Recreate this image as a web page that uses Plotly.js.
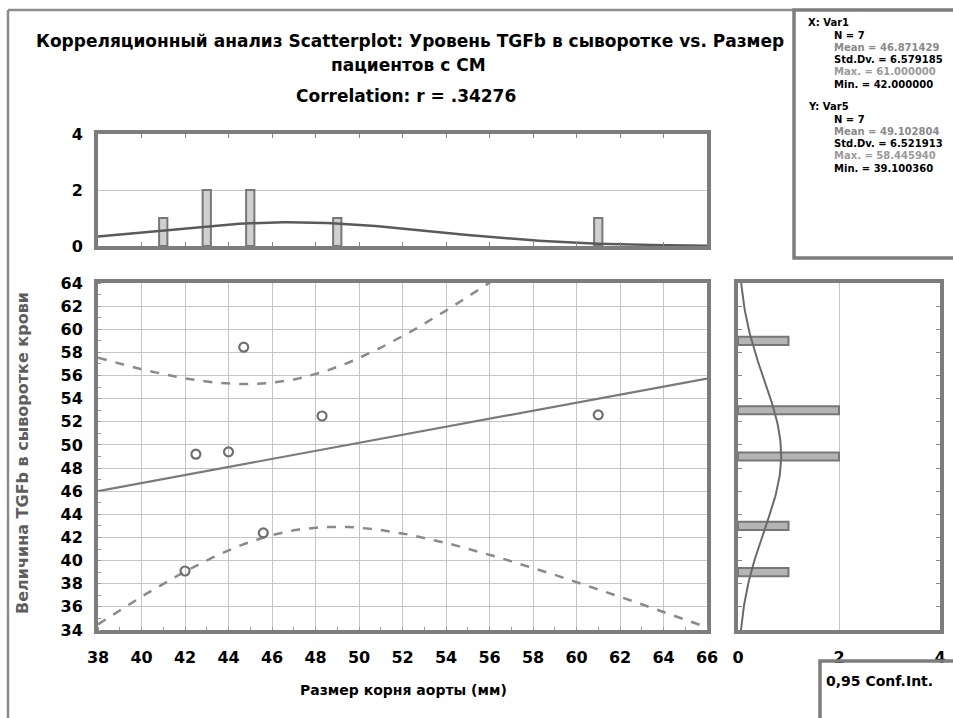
<!DOCTYPE html>
<html>
<head>
<meta charset="utf-8">
<script src="https://cdn.plot.ly/plotly-3.0.1.min.js"></script>
<style>html,body{margin:0;padding:0;background:#fff;}#chart{width:953px;height:718px;}</style>
</head>
<body>
<div id="chart"></div>
<script>
// ---- data ----
const xVals = [42, 42.5, 44, 44.7, 45.6, 48.3, 61];          // Размер корня аорты (мм)
const yVals = [39.1, 49.2, 49.4, 58.45, 42.4, 52.5, 52.6];    // Величина TGFb в сыворотке крови
const xHistCenters = [41, 43, 45, 49, 61];
const xHistCounts  = [1, 2, 2, 1, 1];
const yHistCenters = [39, 43, 49, 53, 59];
const yHistCounts  = [1, 1, 2, 2, 1];
const xTicks = [38,40,42,44,46,48,50,52,54,56,58,60,62,64,66];
const yTicks = [34,36,38,40,42,44,46,48,50,52,54,56,58,60,62,64];
const histBinWidth = 2;
const tCrit = 2.5706; // t(0.975, df=5)

const titleLine1 = "Корреляционный анализ Scatterplot: Уровень TGFb в сыворотке vs. Размер";
const titleLine2 = "пациентов с СМ";
const titleLine3 = "Correlation: r = .34276";
const xTitle = "Размер корня аорты (мм)";
const yTitle = "Величина TGFb в сыворотке крови";
const statsX = ["X: Var1","N = 7","Mean = 46.871429","Std.Dv. = 6.579185","Max. = 61.000000","Min. = 42.000000"];
const statsY = ["Y: Var5","N = 7","Mean = 49.102804","Std.Dv. = 6.521913","Max. = 58.445940","Min. = 39.100360"];
const legendText = "0,95 Conf.Int.";

// ---- statistics derived from the data ----
const n = xVals.length;
const mx = xVals.reduce((a,b)=>a+b,0)/n;
const my = yVals.reduce((a,b)=>a+b,0)/n;
let Sxx=0,Syy=0,Sxy=0;
for (let i=0;i<n;i++){Sxx+=(xVals[i]-mx)**2;Syy+=(yVals[i]-my)**2;Sxy+=(xVals[i]-mx)*(yVals[i]-my);}
const slope = Sxy/Sxx, icpt = my - slope*mx;
const sRes = Math.sqrt((Syy - slope*Sxy)/(n-2));
const sdx = Math.sqrt(Sxx/(n-1)), sdy = Math.sqrt(Syy/(n-1));
const gx=[], fitY=[], upY=[], loY=[];
for (let x=38; x<=66.0001; x+=0.25){
  const yh = icpt + slope*x;
  const h = tCrit*sRes*Math.sqrt(1/n + (x-mx)**2/Sxx);
  gx.push(x); fitY.push(yh); upY.push(yh+h); loY.push(yh-h);
}
const pdf=(v,m,s)=>Math.exp(-0.5*((v-m)/s)**2)/(s*Math.sqrt(2*Math.PI));
const nxX=[], nxY=[];
for (let x=38; x<=66.0001; x+=0.25){nxX.push(x); nxY.push(n*histBinWidth*pdf(x,mx,sdx));}
const nyY=[], nyX=[];
for (let y=34; y<=64.0001; y+=0.25){nyY.push(y); nyX.push(n*histBinWidth*pdf(y,my,sdy));}

// ---- layout helpers (pixel -> paper) ----
const W=953,H=718;
const px=v=>v/W, py=v=>1-v/H;
const frame='#7d7d7d', grid='#c6c6c6';
const FAM='DejaVu Sans, Arial, sans-serif';
const tickFont={family:FAM,size:16,color:'#000',weight:'bold'};

const traces = [
  {x:gx,y:upY,mode:'lines',line:{color:'#8a8a8a',width:2.5,dash:'dash'},xaxis:'x',yaxis:'y',hoverinfo:'skip'},
  {x:gx,y:loY,mode:'lines',line:{color:'#8a8a8a',width:2.5,dash:'dash'},xaxis:'x',yaxis:'y',hoverinfo:'skip'},
  {x:gx,y:fitY,mode:'lines',line:{color:'#7a7a7a',width:2.2},xaxis:'x',yaxis:'y'},
  {x:xVals,y:yVals,mode:'markers',marker:{symbol:'circle-open',size:9,color:'#6f6f6f',line:{width:2.2,color:'#6f6f6f'}},xaxis:'x',yaxis:'y'},
  {type:'bar',x:xHistCenters,y:xHistCounts,width:0.38,marker:{color:'#d0d0d0',line:{color:'#777',width:2}},xaxis:'x2',yaxis:'y2'},
  {x:nxX,y:nxY,mode:'lines',line:{color:'#5a5a5a',width:2.5},xaxis:'x2',yaxis:'y2'},
  {type:'bar',orientation:'h',y:yHistCenters,x:yHistCounts,width:0.7,marker:{color:'#b4b4b4',line:{color:'#777',width:2}},xaxis:'x3',yaxis:'y3'},
  {x:nyX,y:nyY,mode:'lines',line:{color:'#6a6a6a',width:2},xaxis:'x3',yaxis:'y3'}
];

const baseAxis = {showline:true,linecolor:frame,linewidth:4,mirror:true,zeroline:false,tickfont:tickFont,gridcolor:grid,gridwidth:1,fixedrange:true};

const annotations = [];
const addText=(t,x,y,opts)=>annotations.push(Object.assign({text:t,x:px(x),y:py(y),xref:'paper',yref:'paper',showarrow:false,xanchor:'center',yanchor:'middle',font:{family:FAM,size:17,color:'#000',weight:'bold'}},opts||{}));
addText(titleLine1,410,41);
addText(titleLine2,408,65);
addText(titleLine3,406,96);
addText(xTitle,403,690,{font:{family:FAM,size:14,color:'#000',weight:'bold'}});
addText(yTitle,22,453,{textangle:-90,font:{family:FAM,size:16,color:'#5e5e5e',weight:'bold'}});
const statColors=['#000','#000','#8a8a8a','#000','#9a9a9a','#000'];
const statFont=(c)=>({family:FAM,size:10,color:c,weight:'bold'});
statsX.forEach((t,i)=>addText(t,i===0?806:832,23+i*12.2,{xanchor:'left',font:statFont(statColors[i])}));
statsY.forEach((t,i)=>addText(t,i===0?806:832,107+i*12.2,{xanchor:'left',font:statFont(statColors[i])}));
addText(legendText,824,681,{xanchor:'left',font:{family:FAM,size:14,color:'#000',weight:'bold'}});

const shapes = [
  {type:'line',xref:'paper',yref:'paper',x0:px(8),x1:px(8),y0:py(10),y1:py(720),line:{color:'#8c8c8c',width:2.5}},
  {type:'line',xref:'paper',yref:'paper',x0:px(8),x1:px(793),y0:py(10),y1:py(10),line:{color:'#8c8c8c',width:2.5}},
  {type:'rect',xref:'paper',yref:'paper',x0:px(794),x1:px(962),y0:py(258),y1:py(10),line:{color:'#7d7d7d',width:3.5}},
  {type:'rect',xref:'paper',yref:'paper',x0:px(820),x1:px(962),y0:py(725),y1:py(661),line:{color:'#7d7d7d',width:3.5}}
];

const layout = {
  width:W,height:H,margin:{l:0,r:0,t:0,b:0},paper_bgcolor:'#fff',plot_bgcolor:'#fff',showlegend:false,
  xaxis:Object.assign({},baseAxis,{domain:[px(98),px(707)],anchor:'y',range:[38,66],tickvals:xTicks,ticks:'',ticklabelstandoff:10,minor:{ticks:'inside',dtick:1,ticklen:3,tickcolor:'#999'}}),
  yaxis:Object.assign({},baseAxis,{domain:[py(630),py(283)],anchor:'x',range:[34,64],tickvals:yTicks,ticks:'',ticklabelstandoff:8,minor:{ticks:'inside',dtick:1,ticklen:3,tickcolor:'#999'}}),
  xaxis2:Object.assign({},baseAxis,{domain:[px(98),px(707)],anchor:'y2',range:[38,66],dtick:2,tick0:38,showticklabels:false,showgrid:false,ticks:'inside',ticklen:4,tickcolor:'#888',mirror:'allticks'}),
  yaxis2:Object.assign({},baseAxis,{domain:[py(246),py(134)],anchor:'x2',range:[0,4],tickvals:[0,2,4],ticks:'',ticklabelstandoff:8}),
  xaxis3:Object.assign({},baseAxis,{domain:[px(738),px(940)],anchor:'y3',range:[0,4],tickvals:[0,2,4],ticks:'',ticklabelstandoff:10}),
  yaxis3:Object.assign({},baseAxis,{domain:[py(630),py(283)],anchor:'x3',range:[34,64],dtick:2,showticklabels:false,showgrid:false,ticks:'inside',ticklen:4,tickcolor:'#888',mirror:'allticks'}),
  annotations:annotations,shapes:shapes,bargap:0
};

Plotly.newPlot('chart',traces,layout,{displayModeBar:false,staticPlot:true});
</script>
</body>
</html>
